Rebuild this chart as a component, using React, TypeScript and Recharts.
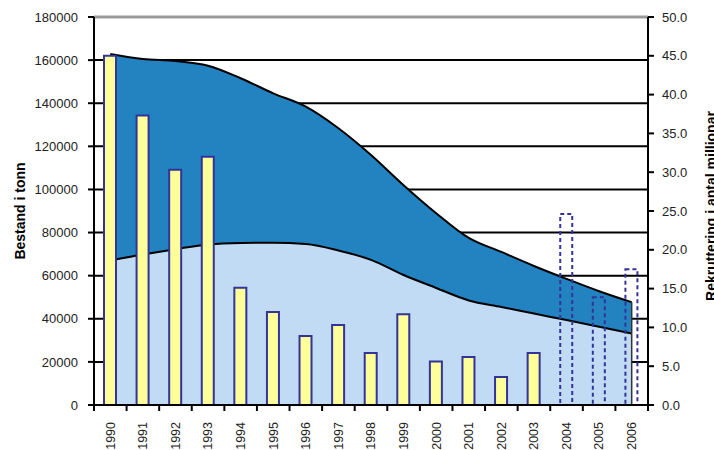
import { ComposedChart, Area, Bar, Cell, XAxis, YAxis, CartesianGrid, ReferenceLine } from 'recharts'

const years = ['1990', '1991', '1992', '1993', '1994', '1995', '1996', '1997', '1998', '1999', '2000', '2001', '2002', '2003', '2004', '2005', '2006']
// bestand (tonn)
const totalStock = [162800, 160500, 159600, 157400, 151600, 144600, 138400, 128400, 116000, 102000, 89000, 77500, 71000, 64500, 58500, 52800, 47700]
const spawningStock = [67000, 69800, 72300, 74500, 75200, 75300, 74700, 71700, 67300, 60300, 54300, 48500, 45500, 42400, 39400, 36300, 33200]
// rekruttering (millionar)
const recruitment = [45.0, 37.3, 30.3, 32.0, 15.1, 12.0, 8.9, 10.3, 6.7, 11.7, 5.6, 6.2, 3.6, 6.7, 24.6, 13.9, 17.5]
const prognosisFrom = '2004'

const leftTicks = [0, 20000, 40000, 60000, 80000, 100000, 120000, 140000, 160000, 180000]
const rightTicks = [0, 5, 10, 15, 20, 25, 30, 35, 40, 45, 50]

const data = years.map((year, i) => ({
  year,
  total: totalStock[i],
  spawning: spawningStock[i],
  recruitment: recruitment[i],
}))

const W = 714
const H = 450
const LEFT_W = 94
const RIGHT_W = 66
const TOP = 17
const X_H = 45
const BAND = (W - LEFT_W - RIGHT_W) / years.length
const FONT = '"Liberation Sans", Arial, sans-serif'
const NAVY = '#333399'

const YearTick = (props: any) => {
  const { x, y, payload, index } = props
  const left = x - BAND / 2
  const right = x + BAND / 2
  return (
    <g>
      <line x1={left} x2={left} y1={y} y2={y + 6} stroke="#000" strokeWidth={2} />
      {index === years.length - 1 && (
        <line x1={right} x2={right} y1={y} y2={y + 6} stroke="#000" strokeWidth={2} />
      )}
      <text
        transform={`translate(${x},${y + 17}) rotate(-90)`}
        textAnchor="end"
        dy="0.35em"
        fontSize={12.5}
        fontFamily={FONT}
        fill="#222"
      >
        {payload.value}
      </text>
    </g>
  )
}

const AxisTitle = ({ title, tx, ty }: { title: string; tx: number; ty: number }) => (
  <text
    transform={`translate(${tx},${ty}) rotate(-90)`}
    textAnchor="middle"
    fontSize={14}
    fontWeight="bold"
    fontFamily={FONT}
    fill="#000"
  >
    {title}
  </text>
)

export default function App() {
  return (
    <div style={{ position: 'absolute', left: 0, top: 0, width: W, height: H, background: '#fff' }}>
      <ComposedChart
        width={W}
        height={H}
        data={data}
        margin={{ top: TOP, right: 0, bottom: 0, left: 0 }}
      >
        <CartesianGrid yAxisId="left" vertical={false} stroke="#000" strokeWidth={2} />
        <ReferenceLine yAxisId="left" y={180000} stroke="#999" strokeWidth={3} />
        <XAxis
          dataKey="year"
          height={X_H}
          interval={0}
          tickLine={false}
          tickSize={0}
          tickMargin={0}
          axisLine={{ stroke: '#000', strokeWidth: 2 }}
          tick={<YearTick />}
        />
        <YAxis
          yAxisId="left"
          width={LEFT_W}
          domain={[0, 180000]}
          ticks={leftTicks}
          interval={0}
          tickSize={6}
          tickMargin={10}
          axisLine={{ stroke: '#000', strokeWidth: 2 }}
          tickLine={{ stroke: '#000', strokeWidth: 2 }}
          tick={{ fontSize: 13, fontFamily: FONT, fill: '#222' }}
          label={<AxisTitle title="Bestand i tonn" tx={25} ty={211} />}
        />
        <YAxis
          yAxisId="right"
          orientation="right"
          width={RIGHT_W}
          domain={[0, 50]}
          ticks={rightTicks}
          interval={0}
          tickSize={6}
          tickMargin={8}
          tickFormatter={(v: number) => v.toFixed(1)}
          axisLine={{ stroke: '#000', strokeWidth: 2 }}
          tickLine={{ stroke: '#000', strokeWidth: 2 }}
          tick={{ fontSize: 13, fontFamily: FONT, fill: '#222' }}
          label={<AxisTitle title="Rekruttering i antal millionar" tx={716} ty={206} />}
        />
        <Area
          yAxisId="left"
          type="monotone"
          dataKey="total"
          fill="#2383C1"
          fillOpacity={1}
          stroke="#000"
          strokeWidth={2}
          isAnimationActive={false}
        />
        <Area
          yAxisId="left"
          type="monotone"
          dataKey="spawning"
          fill="#C0DBF3"
          fillOpacity={1}
          stroke="#000"
          strokeWidth={2}
          isAnimationActive={false}
        />
        <ReferenceLine
          yAxisId="left"
          segment={[
            { x: years[years.length - 1], y: 0 },
            { x: years[years.length - 1], y: totalStock[totalStock.length - 1] },
          ]}
          stroke="#333"
          strokeWidth={1.5}
        />
        <Bar yAxisId="right" dataKey="recruitment" barSize={12} isAnimationActive={false}>
          {data.map((d) => {
            const prognosis = Number(d.year) >= Number(prognosisFrom)
            return (
              <Cell
                key={d.year}
                fill={prognosis ? 'none' : '#FFFF99'}
                stroke={NAVY}
                strokeWidth={2}
                strokeDasharray={prognosis ? '4 3' : undefined}
              />
            )
          })}
        </Bar>
      </ComposedChart>
    </div>
  )
}
